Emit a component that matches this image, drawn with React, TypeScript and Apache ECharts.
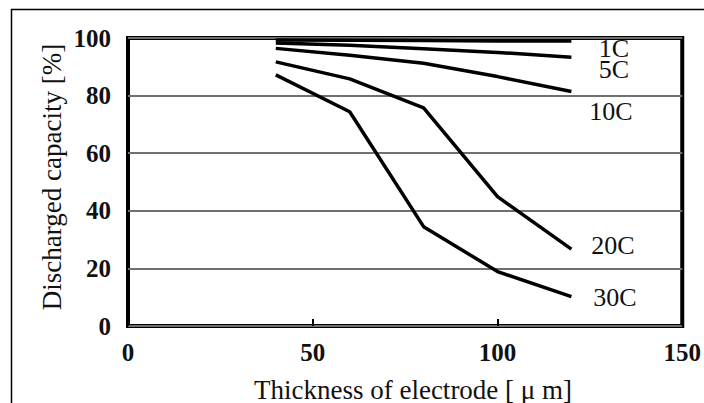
import React, { useEffect, useRef } from "react";
import * as echarts from "echarts";

const thickness = [40, 60, 80, 100, 120];
const c1 = [99.3, 99.2, 99.1, 99.0, 99.0];
const c5 = [98.3, 97.5, 96.3, 95.0, 93.3];
const c10 = [96.4, 94.0, 91.2, 86.6, 81.4];
const c20 = [91.7, 85.8, 75.7, 44.9, 26.7];
const c30 = [87.2, 74.4, 34.5, 18.9, 10.2];
const seriesNames = ["1C", "5C", "10C", "20C", "30C"];
const seriesValues = [c1, c5, c10, c20, c30];
const xTitle = "Thickness of electrode [ \u03bc m]";
const yTitle = "Discharged capacity [%]";

const SERIF = "'Liberation Serif', 'DejaVu Serif', serif";

export default function App() {
  const ref = useRef<HTMLDivElement>(null);
  useEffect(() => {
    document.body.style.margin = "0";
    if (!ref.current) return;
    const chart = echarts.init(ref.current, null, { renderer: "svg" });
    const labelPos: Record<string, [number, number]> = {
      "1C": [614, 48],
      "5C": [614, 69],
      "10C": [611, 111],
      "20C": [613, 245],
      "30C": [615, 297],
    };
    const tickLabel = {
      color: "#111",
      fontFamily: "Liberation Serif",
      fontSize: 25,
      fontWeight: "bold",
    };
    chart.setOption({
      animation: false,
      backgroundColor: "#fff",
      grid: {
        left: 128,
        right: 19,
        top: 38,
        bottom: 77,
        show: true,
        borderColor: "#000",
        borderWidth: 4,
        backgroundColor: "transparent",
      },
      xAxis: {
        type: "value",
        min: 0,
        max: 150,
        interval: 50,
        axisLine: { show: false },
        axisTick: { show: true, inside: true, length: 7, lineStyle: { color: "#000", width: 2 } },
        splitLine: { show: false },
        axisLabel: { ...tickLabel, margin: 14 },
      },
      yAxis: {
        type: "value",
        min: 0,
        max: 100,
        interval: 20,
        axisLine: { show: false },
        axisTick: { show: false },
        splitLine: { show: true, lineStyle: { color: "#707070", width: 2 } },
        axisLabel: { ...tickLabel, margin: 17 },
      },
      series: seriesNames.map((name, i) => ({
        name,
        type: "line",
        data: thickness.map((x, j) => [x, seriesValues[i][j]]),
        showSymbol: false,
        symbol: "none",
        lineStyle: { color: "#000", width: 3.5 },
        z: 3,
      })),
      graphic: [
        {
          type: "rect",
          shape: { x: 11.5, y: 9.5, width: 760, height: 460 },
          style: { fill: "none", stroke: "#000", lineWidth: 1.5 },
          silent: true,
          z: 1,
        },
        {
          type: "text",
          x: 52,
          y: 177,
          rotation: Math.PI / 2,
          style: {
            text: yTitle,
            font: `27px ${SERIF}`,
            fill: "#111",
            align: "center",
            verticalAlign: "middle",
          },
        },
        {
          type: "text",
          x: 413,
          y: 390,
          style: {
            text: xTitle,
            font: `27px ${SERIF}`,
            fill: "#111",
            align: "center",
            verticalAlign: "middle",
          },
        },
        ...seriesNames.map((n) => ({
          type: "text",
          x: labelPos[n][0],
          y: labelPos[n][1],
          style: {
            text: n,
            font: `26px ${SERIF}`,
            fill: "#111",
            align: "center",
            verticalAlign: "middle",
          },
        })),
      ],
    });
    return () => chart.dispose();
  }, []);
  return <div ref={ref} style={{ width: 704, height: 403 }} />;
}
